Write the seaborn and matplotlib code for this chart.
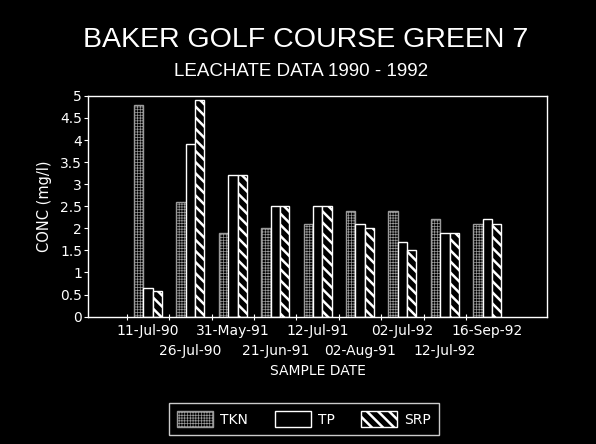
import matplotlib
matplotlib.use("Agg")
import matplotlib.pyplot as plt
from matplotlib.patches import Patch
import numpy as np
import pandas as pd
import seaborn as sns

# values
DATES = ["11-Jul-90", "26-Jul-90", "31-May-91", "21-Jun-91", "12-Jul-91",
         "02-Aug-91", "02-Jul-92", "12-Jul-92", "16-Sep-92"]
TKN = [4.8, 2.6, 1.9, 2.0, 2.1, 2.4, 2.4, 2.2, 2.1]
TP = [0.65, 3.9, 3.2, 2.5, 2.5, 2.1, 1.7, 1.9, 2.2]
SRP = [0.58, 4.9, 3.2, 2.5, 2.5, 2.0, 1.5, 1.9, 2.1]
SERIES = ["TKN", "TP", "SRP"]
HATCHES = {"TKN": "++++++", "TP": "", "SRP": "\\\\\\"}
EDGE = {"TKN": "#9a9a9a", "TP": "white", "SRP": "white"}
Y_TICKS = [0, 0.5, 1, 1.5, 2, 2.5, 3, 3.5, 4, 4.5, 5]

sns.set_theme(style="dark", rc={
    "figure.facecolor": "black",
    "axes.facecolor": "black",
    "axes.edgecolor": "white",
    "axes.labelcolor": "white",
    "text.color": "white",
    "xtick.color": "white",
    "ytick.color": "white",
    "axes.grid": False,
    "hatch.linewidth": 1.8,
})
plt.rcParams["font.family"] = ["DejaVu Sans"]
TITLE_FONT = ["Liberation Sans", "DejaVu Sans"]


def style_tkn(p):
    # grey dotted grid inside, light outline if the version allows it
    if hasattr(p, "set_hatchcolor"):
        p.set_edgecolor("#dddddd")
        p.set_hatchcolor(EDGE["TKN"])
    else:
        p.set_edgecolor(EDGE["TKN"])
    if hasattr(p, "set_hatch_linewidth"):
        p.set_hatch_linewidth(0.5)


df = pd.DataFrame({
    "date": DATES * 3,
    "param": ["TKN"] * 9 + ["TP"] * 9 + ["SRP"] * 9,
    "conc": TKN + TP + SRP,
})

fig = plt.figure(figsize=(5.96, 4.44), dpi=100)
ax = fig.add_axes([0.148, 0.287, 0.77, 0.497])

sns.barplot(data=df, x="date", y="conc", hue="param", hue_order=SERIES,
            order=DATES, palette=["black"] * 3, edgecolor="white",
            linewidth=1.0, width=0.66, ax=ax, legend=False)

for cont, name in zip(ax.containers, SERIES):
    for bar in cont:
        bar.set_hatch(HATCHES[name])
        if name == "TKN":
            style_tkn(bar)

ax.set_xlim(-1.41, 9.41)
ax.set_ylim(0, 5)
ax.set_yticks(Y_TICKS)
ax.set_yticklabels([f"{v:g}" for v in Y_TICKS], fontsize=10)
ax.tick_params(axis="y", length=3, width=0.8, direction="out", pad=1.5, left=True)

# staggered date labels: even ones on the tick row, odd ones a row lower
even = list(range(0, len(DATES), 2))
ax.set_xticks(even)
ax.set_xticklabels([DATES[i] for i in even], fontsize=10)
ax.tick_params(axis="x", length=0, pad=5)
for i in range(1, len(DATES), 2):
    ax.annotate(DATES[i], xy=(i, 0), xycoords=("data", "axes fraction"),
                xytext=(0, -24.5), textcoords="offset points",
                ha="center", va="center", fontsize=10, color="white")
ax.set_xticks(np.arange(-0.5, 8, 1), minor=True)
ax.tick_params(axis="x", which="minor", length=5, width=0.8, direction="inout", bottom=True)

for s in ax.spines.values():
    s.set_color("white")
    s.set_linewidth(1.0)

ax.set_xlabel("SAMPLE DATE", fontsize=10)
ax.xaxis.label.set_va("center")
ax.xaxis.set_label_coords(0.5, -0.245)
ax.set_ylabel("CONC (mg/l)", fontsize=10.5)
ax.yaxis.label.set_va("center")
ax.yaxis.set_label_coords(-0.096, 0.5)

fig.text(0.512, 0.91, "BAKER GOLF COURSE GREEN 7", ha="center", va="center",
         fontsize=20.5, family=TITLE_FONT)
fig.text(0.505, 0.838, "LEACHATE DATA 1990 - 1992", ha="center", va="center",
         fontsize=13.5, family=TITLE_FONT)

handles = [Patch(facecolor="black", edgecolor=EDGE[n], hatch=HATCHES[n], label=n)
           for n in SERIES]
leg = fig.legend(handles=handles, loc="center", bbox_to_anchor=(0.51, 0.056), ncol=3,
                 fontsize=10, frameon=True, fancybox=False, handlelength=2.6,
                 handleheight=1.35, columnspacing=1.9, handletextpad=0.5,
                 borderpad=0.6)
leg.get_frame().set_facecolor("black")
leg.get_frame().set_edgecolor("white")
leg.get_frame().set_linewidth(1.0)
for t in leg.get_texts():
    t.set_color("white")
lp = leg.get_patches()
if lp:
    style_tkn(lp[0])

fig.savefig("out.png", dpi=100, facecolor="black")
